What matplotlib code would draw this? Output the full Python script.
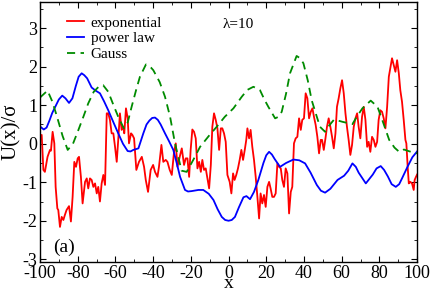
import numpy as np
import matplotlib
matplotlib.use('Agg')
import matplotlib.pyplot as plt
from matplotlib.ticker import MultipleLocator

# --- data ---
exp_x = [-100, -99.1, -98.2, -97.4, -96.0, -94.7, -94.2, -93.3, -92.4, -91.7, -90.8, -90.3, -89.4, -88.5,
         -87.6, -86.8, -85.9, -84.6, -83.6, -82.7, -81.8, -80.9, -80.0, -79.3, -78.3, -77.4, -76.1, -75.2,
         -74.4, -73.5, -72.6, -71.7, -70.8, -69.9, -69.1, -68.2, -67.3, -66.4, -65.5, -64.6, -63.8, -62.9,
         -62.0, -61.1, -60.2, -59.3, -58.5, -57.6, -56.7, -55.8, -55.3, -54.4, -53.5, -52.8, -51.7, -51.0,
         -50.1, -48.9, -47.5, -46.0, -44.8, -43.9, -42.7, -41.3, -40.0, -39.0, -37.7, -36.9, -35.6, -34.6,
         -33.3, -32.4, -31.2, -30.1, -28.9, -28.0, -27.1, -25.9, -24.8, -23.6, -22.7, -21.8, -20.9, -20.1,
         -19.2, -18.3, -17.4, -16.5, -15.6, -14.7, -13.9, -13.0, -12.1, -11.2, -10.3, -9.4, -8.6, -7.7,
         -6.8, -5.9, -5.0, -4.1, -3.3, -2.4, -1.5, -0.6, 0.6, 1.5, 2.4, 3.2, 4.1, 5.0, 5.9, 6.8, 7.7, 8.6,
         9.4, 10.0, 10.9, 11.7, 12.6, 13.5, 14.4, 15.3, 16.2, 17.0, 17.9, 18.8, 19.7, 20.6, 21.5, 22.3,
         23.2, 24.1, 25.0, 25.9, 26.8, 27.7, 28.5, 29.4, 30.3, 31.2, 32.1, 33.0, 33.8, 34.7, 35.6, 36.5,
         37.4, 38.3, 39.1, 40.0, 40.9, 41.8, 42.7, 43.6, 44.5, 45.3, 46.2, 47.1, 48.0, 48.9, 49.6, 50.5,
         51.4, 52.2, 53.1, 54.0, 54.9, 55.8, 56.7, 57.5, 58.4, 59.3, 60.2, 61.1, 62.0, 62.8, 63.7, 64.6,
         65.5, 66.4, 67.3, 68.2, 69.0, 69.9, 70.8, 71.7, 72.6, 73.5, 74.3, 75.2, 76.1, 77.0, 77.9, 78.8,
         79.6, 80.5, 81.4, 82.3, 83.2, 84.1, 85.0, 85.8, 86.7, 87.6, 88.5, 89.4, 90.3, 91.1, 92.0, 92.9,
         93.8, 94.3, 95.0, 95.6, 96.4, 97.3, 98.2, 98.7, 99.4, 100]
exp_y = [0.15, 0.23, -0.68, -0.73, -0.34, -0.16, -0.18, 0.31, 0.01, -1.12, -1.68, -1.72, -2.16, -1.90,
         -1.98, -1.85, -1.72, -1.62, -2.02, -1.38, -0.47, -0.60, -0.38, -0.34, -0.86, -1.55, -0.99, -0.90,
         -1.16, -0.90, -0.94, -1.12, -1.03, -1.29, -1.12, -1.50, -1.03, -0.81, -1.07, 0.79, 0.79, 0.62,
         0.27, 0.27, -0.08, -0.47, 0.10, 0.79, 0.36, 0.44, 0.27, 0.92, 0.66, 0.01, 0.27, 0.23,
         0.14, -0.68, -0.47, -0.34, -0.60, -0.94, -1.25, -0.68, -0.55, -0.73, -0.86, -0.60, -0.03, -0.47,
         -0.42, -0.47, -0.68, -0.81, -0.21, 0.01, -0.60, -0.34, -0.12, -0.55, -0.38, -0.38, -0.86, -0.16,
         0.37, 0.31, 0.14, -0.64, -0.47, -0.73, -0.42, -0.68, -0.64, -0.90, -1.16, -0.55, 0.44, 0.79,
         0.62, 0.40, -0.16, 0.40, 0.40, 0.27, 0.05, -0.81, -0.99, -1.29, -0.77, -0.94, -0.81, -0.64, -0.42,
         -0.16, -0.42, -0.16, 0.10, 0.40, 0.14, 0.36, -0.08, -0.42, -0.86, -1.38, -1.94, -1.29, -1.55, -1.33,
         -1.64, -1.12, -0.99, -1.16, -1.38, -1.38, -1.29, -0.51, -0.60, -0.64, -0.94, -1.12, -0.64, -0.77,
         -1.81, -1.25, -1.12, 0.01, 0.14, 0.18, 0.66, 0.36, 0.62, 0.66, 1.31, 1.18, 0.66, 0.83, 0.92, 0.70,
         0.49, 0.18, -0.25, 0.10, 0.10, -0.16, 0.14, 0.44, 0.66, 0.44, 0.18, -0.12, 0.27, 0.96, 1.18,
         1.44, 1.65, 1.31, 0.79, 0.44, 0.10, -0.29, -0.03, 0.44, 0.66, 0.79, 0.44, 0.14, 0.70, 0.96, 0.62,
         -0.08, 0.05, -0.21, 0.18, 0.10, -0.08, 0.05, 0.62, 0.87, 0.83, 0.66, 0.40, 0.96, 1.74, 1.96, 2.22,
         2.04, 1.87, 2.17, 1.83, 1.39, 1.09, 0.62, 0.10, 0.01, -0.60, -1.03, -0.99, -1.03, -1.20, -0.94,
         -0.86, -0.80]

pow_x = [-100, -98, -96.5, -95, -93.5, -92, -90, -88.2, -86.5, -84.6, -82.8, -81, -79.5, -77.9, -76.5,
         -75, -72.6, -70.5, -68.2, -66, -63.8, -61, -58.5, -56, -53.5, -52, -50.5, -47.8, -45.2, -43.5,
         -42, -40.5, -39, -37.5, -36, -33.7, -31.5, -29.3, -27.5, -25.7, -23.1, -21.5, -19.6, -16, -13.4,
         -10.5, -8, -5.8, -3.6, -1.8, 0, 1.7, 3.4, 5.5, 7.9, 9.5, 11.4, 13.5, 15.8, 18.5, 20, 21.5, 23,
         24.5, 27.3, 30.5, 34.4, 37.5, 40.6, 43.5, 46.8, 49, 51.2, 54, 57.8, 61.3, 63.5, 65.7, 67.5, 69,
         72.8, 76.5, 78.5, 80.7, 82.5, 84.5, 86.5, 88.7, 90.5, 92, 94.9, 97.5, 100]
pow_y = [0.45, 0.37, 0.42, 0.6, 0.8, 0.95, 1.15, 1.25, 1.18, 1.06, 1.18, 1.5, 1.74, 1.83, 1.78,
         1.7, 1.46, 1.38, 1.31, 1.1, 0.87, 0.55, 0.27, 0.0, -0.19, -0.2, -0.16, -0.12, 0.27, 0.5,
         0.6, 0.67, 0.68, 0.62, 0.5, 0.27, 0.06, -0.16, -0.5, -0.86, -1.2, -1.24, -1.23, -1.2, -1.2,
         -1.3, -1.46, -1.7, -1.9, -1.98, -2.0, -1.98, -1.9, -1.65, -1.39, -1.36, -1.44, -1.25, -0.94,
         -0.5, -0.3, -0.21, -0.28, -0.4, -0.6, -0.5, -0.41, -0.43, -0.51, -0.75, -1.07, -1.22, -1.27,
         -1.17, -0.94, -0.83, -0.7, -0.51, -0.6, -0.75, -1.03, -0.8, -0.64, -0.58, -0.68, -0.85, -1.05,
         -1.12, -1.05, -0.9, -0.6, -0.35, -0.2]

gauss_x = [-100, -96, -93.5, -91.2, -88, -85.3, -82.5, -79.7, -77, -74.4, -71.5, -68.5, -66.5, -63.8, -61,
           -58.5, -55.5, -53.5, -51.4, -49, -47, -43.8, -41, -39.9, -36.5, -33.7, -31, -28.4, -24.9, -22.2,
           -18.5, -15.1, -10.5, -6.3, -2, 2.6, 7, 10, 13.2, 16.7, 19, 21.1, 24.7, 26.5, 28.2, 30.5, 32.6,
           36.1, 38, 39.7, 42, 44.1, 46.5, 48.5, 51.2, 53, 56, 60.4, 65.7, 68, 71, 75.4, 79, 82, 85.2, 88,
           90.5, 93, 96.7, 100]
gauss_y = [1.2, 1.38, 1.1, 0.74, 0.2, -0.16, 0.0, 0.35, 0.7, 1.05, 1.35, 1.5, 1.52, 1.35, 1.0,
           0.7, 0.4, 0.55, 0.96, 1.4, 1.74, 2.06, 1.97, 1.91, 1.6, 1.22, 0.7, 0.01, -0.7, -0.73,
           -0.4, -0.08, 0.2, 0.44, 0.7, 0.92, 1.22, 1.4, 1.48, 1.39, 1.15, 0.96, 0.66, 0.7, 0.83, 1.3, 1.83,
           2.28, 2.22, 2.09, 1.65, 1.13, 0.75, 0.44, 0.31, 0.45, 0.63, 0.57, 0.51, 0.7, 0.92, 1.12, 0.96, 0.55,
           0.1, -0.1, -0.21, -0.15, -0.21, -0.25]

plt.rcParams['font.family'] = ['Liberation Serif', 'DejaVu Serif']
plt.rcParams['axes.unicode_minus'] = False

fig = plt.figure(figsize=(4.3, 2.94), dpi=100)
ax = fig.add_axes([0.093, 0.109, 0.877, 0.884])

ax.plot(exp_x, exp_y, color='#ff0000', lw=1.3, label='exponential')
ax.plot(pow_x, pow_y, color='#0000ff', lw=1.3, label='power law')
ax.plot(gauss_x, gauss_y, color='#008b00', lw=1.3, ls=(0, (4.5, 3)), label='Gauss')

ax.set_xlim(-100, 100)
ax.set_ylim(-3.07, 3.68)
ax.xaxis.set_major_locator(MultipleLocator(20))
ax.xaxis.set_minor_locator(MultipleLocator(10))
ax.yaxis.set_major_locator(MultipleLocator(1))
ax.yaxis.set_minor_locator(MultipleLocator(0.5))
ax.tick_params(which='both', direction='in', top=True, right=True, labelsize=13, pad=2)
ax.tick_params(which='major', length=4)
ax.tick_params(which='minor', length=2.5)
for s in ax.spines.values():
    s.set_linewidth(1.0)

ax.set_xlabel('x', fontsize=14, labelpad=-5)
ax.set_ylabel('U(x)/σ', fontsize=15, labelpad=1)

ax.legend(loc='upper left', bbox_to_anchor=(0.035, 1.0), frameon=False, fontsize=11,
          handlelength=1.1, handletextpad=0.45, labelspacing=0.15)
ax.text(-3, 3.11, 'λ=10', fontsize=11, va='center')
ax.text(-93, -2.69, '(a)', fontsize=14, va='center')

plt.savefig('out.png', dpi=100)
